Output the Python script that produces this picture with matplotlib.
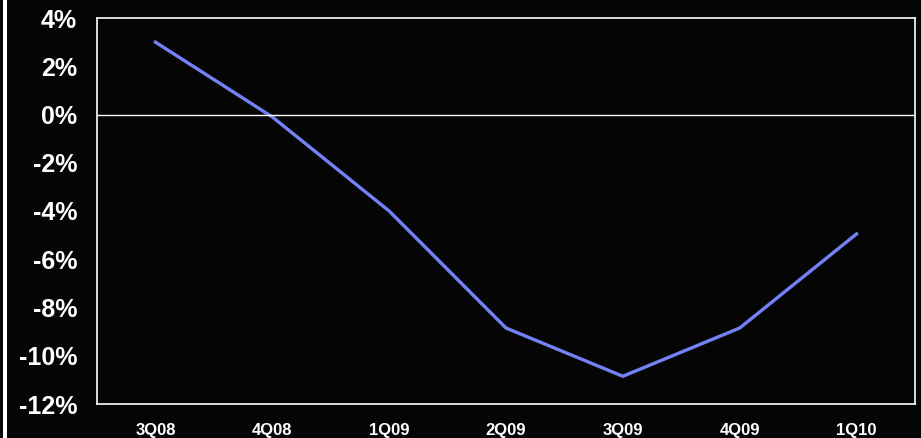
import matplotlib
matplotlib.use("Agg")
import matplotlib.pyplot as plt
from matplotlib.patches import Rectangle

quarters = ["3Q08", "4Q08", "1Q09", "2Q09", "3Q09", "4Q09", "1Q10"]
growth = [3.0, -0.1, -4.0, -8.85, -10.85, -8.85, -4.95]
yticks = [4, 2, 0, -2, -4, -6, -8, -10, -12]

plt.rcParams['font.family'] = ['Liberation Sans', 'DejaVu Sans']

fig = plt.figure(figsize=(9.21, 4.38), dpi=100, facecolor="#050505")
W, H = 921, 438
ax = fig.add_axes([97 / W, 1 - 404 / H, (915 - 97) / W, (404 - 18) / H])
ax.set_facecolor("#050505")

# left white strip
fig.patches.append(Rectangle((3 / W, 0), 4 / W, 1, transform=fig.transFigure,
                             facecolor="white", edgecolor="none"))

x = list(range(len(quarters)))
ax.plot(x, growth, color="#7382F5", lw=2.4, solid_joinstyle="miter")
ax.axhline(0, color="white", lw=1)

ax.set_xlim(-0.5, len(quarters) - 0.5)
ax.set_ylim(-12, 4)
ax.set_yticks(yticks)
ax.set_yticklabels([f"{v}%" for v in yticks], fontsize=18, fontweight="bold", color="white")
ax.set_xticks(x)
ax.set_xticklabels(quarters, fontsize=12, fontweight="bold", color="white")
ax.tick_params(axis="both", length=0)
ax.tick_params(axis="y", pad=14.4)
ax.tick_params(axis="x", pad=13.5)
for s in ax.spines.values():
    s.set_color("white")
    s.set_linewidth(1.2)

fig.savefig("out.png", dpi=100, facecolor=fig.get_facecolor())
